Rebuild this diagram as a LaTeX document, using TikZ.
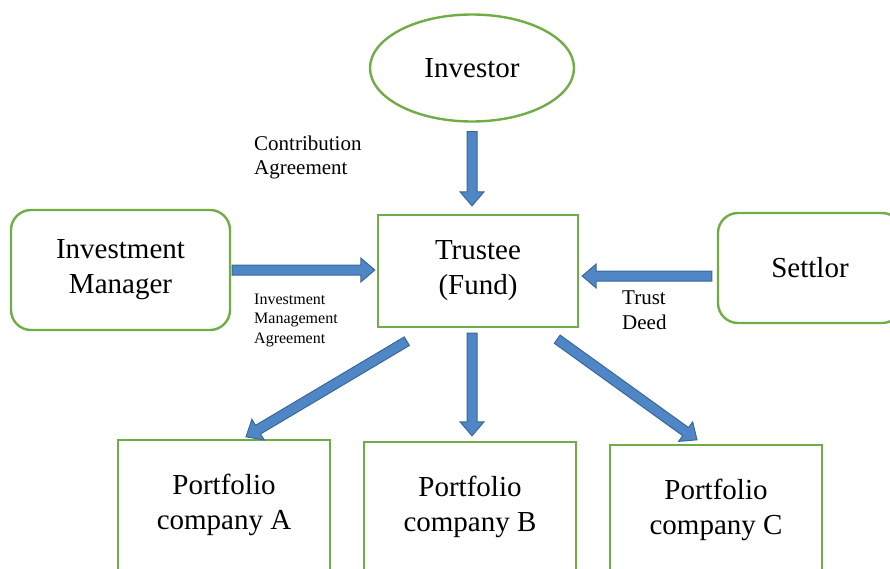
\documentclass[tikz,border=0pt]{standalone}
\usepackage{fontspec}
\setmainfont{Liberation Serif}
\usetikzlibrary{calc,shapes.geometric}

\definecolor{boxgreen}{HTML}{70AD47}
\definecolor{arrowblue}{HTML}{4F86C6}
\definecolor{arrowedge}{HTML}{3B6897}

\tikzset{
  bigtext/.style={font=\fontsize{29}{35}\selectfont, align=center},
  greenbox/.style={draw=boxgreen, line width=2.4pt, bigtext},
  roundbox/.style={greenbox, rounded corners=20pt},
  fatarrow/.style={fill=arrowblue, draw=arrowedge, line width=1pt, line join=miter},
  agreement/.style={anchor=west, inner sep=0pt, align=left}
}

% block arrow from #1 to #2 (tip at #2)
\newcommand{\fatarrow}[2]{%
  \coordinate (hb) at ($(#2)!14pt!(#1)$);
  \draw[fatarrow] ($(#1)!5pt!90:(#2)$) -- ($(hb)!5pt!-90:(#1)$)
    -- ($(hb)!12pt!-90:(#1)$) -- (#2) -- ($(hb)!12pt!90:(#1)$)
    -- ($(hb)!5pt!90:(#1)$) -- ($(#1)!5pt!-90:(#2)$) -- cycle;}

\begin{document}
\begin{tikzpicture}[x=1pt, y=-1pt]
\useasboundingbox (0,0) rectangle (890,568);
\clip (0,0) rectangle (890,568);

% parties
\node[greenbox, ellipse, minimum width=204pt, minimum height=107pt] (investor) at (472,68) {Investor};
\node[greenbox, minimum width=200pt, minimum height=112pt] (trustee) at (478,271) {Trustee\\(Fund)};
\node[roundbox, minimum width=219pt, minimum height=120pt] (manager) at (120.5,270) {Investment\\Manager};
\node[roundbox, minimum width=184pt, minimum height=110pt] (settlor) at (810,268) {Settlor};

% portfolio companies
\node[greenbox, minimum width=212pt, minimum height=130pt] (compA) at (224,505) {Portfolio\\company A};
\node[greenbox, minimum width=212pt, minimum height=130pt] (compB) at (470,507) {Portfolio\\company B};
\node[greenbox, minimum width=212pt, minimum height=130pt] (compC) at (716,510) {Portfolio\\company C};

% arrow ends
\coordinate (i1) at ($(investor.south)+(0,9)$);
\coordinate (i2) at ($(i1 |- trustee.north)+(0,-8)$);
\coordinate (m1) at ($(manager.east)+(1,0)$);
\coordinate (m2) at ($(m1 -| trustee.west)+(-2,0)$);
\coordinate (s1) at ($(settlor.west)+(-5,8)$);
\coordinate (s2) at ($(s1 -| trustee.east)+(3,0)$);
\coordinate (a1) at ($(trustee.south west)+(30,13)$);
\coordinate (a2) at ($(compA.north)+(22,-2)$);
\coordinate (b1) at ($(trustee.south)+(-6,5)$);
\coordinate (b2) at ($(b1 |- compB.north)+(0,-5)$);
\coordinate (c1) at ($(trustee.south east)+(-22,11)$);
\coordinate (c2) at ($(compC.north)+(-19,-4)$);

\fatarrow{i1}{i2}
\fatarrow{m1}{m2}
\fatarrow{s1}{s2}
\fatarrow{a1}{a2}
\fatarrow{b1}{b2}
\fatarrow{c1}{c2}

% agreements
\node[agreement, font=\fontsize{21}{24}\selectfont] (contrib) at (254,157) {Contribution\\Agreement};
\node[agreement, font=\fontsize{16}{19.5}\selectfont] (ima) at (254,320) {Investment\\Management\\Agreement};
\node[agreement, font=\fontsize{21}{25}\selectfont] (deed) at (622,310) {Trust\\Deed};
\end{tikzpicture}
\end{document}
